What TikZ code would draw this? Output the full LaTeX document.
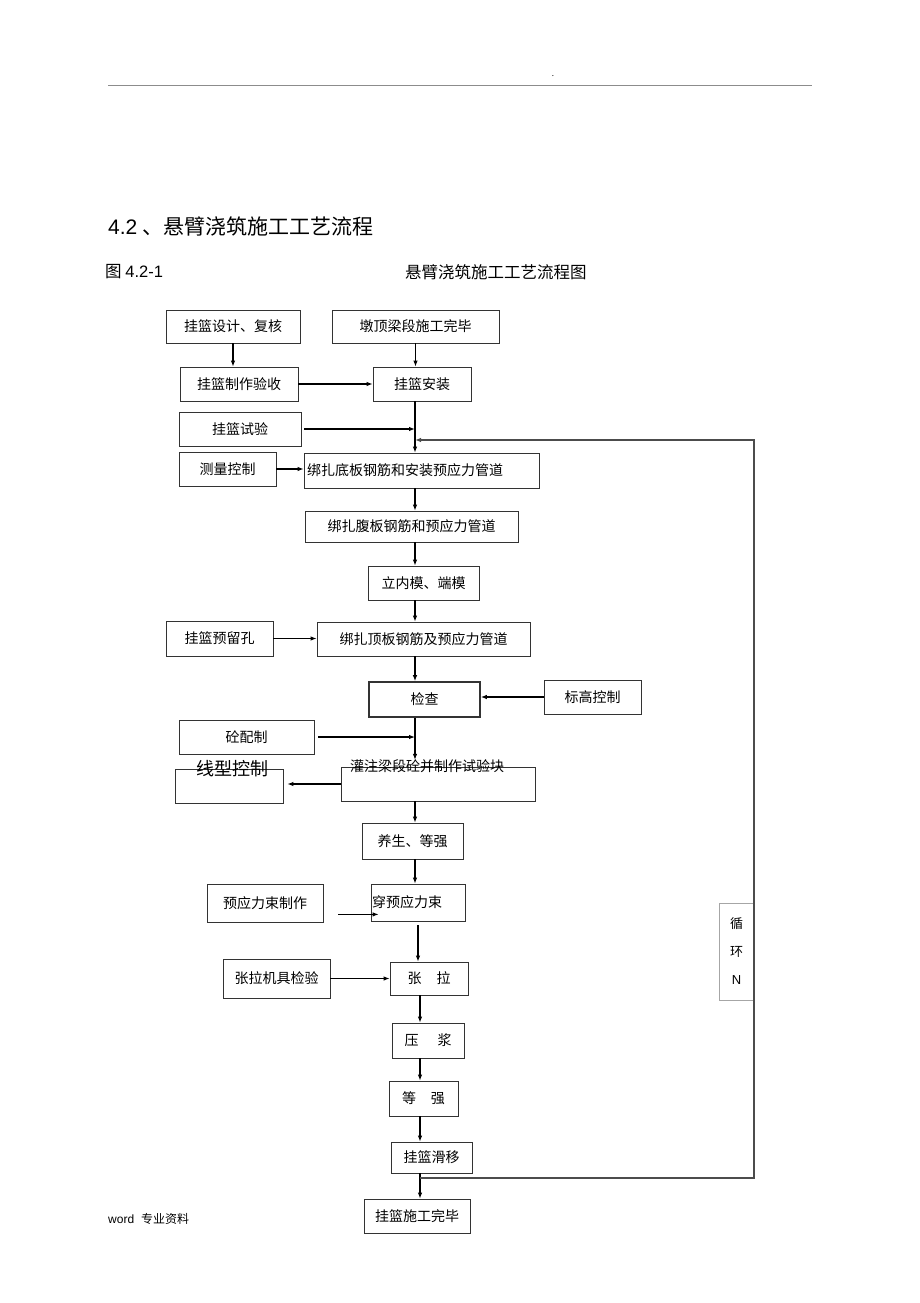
\documentclass[tikz,border=0pt]{standalone}
\usepackage{fontspec}
\setmainfont{Noto Sans CJK SC}
\newfontfamily\latin{Liberation Sans}
\usetikzlibrary{arrows.meta, calc}
\tikzstyle{process} = [rectangle, draw=black!80, line width=0.8pt, inner sep=0pt, text centered, font=\fontsize{14}{16}\selectfont]
\tikzstyle{plain} = [anchor=west, inner sep=0pt]
\tikzstyle{connector} = [draw, line width=1.1pt, -{Latex[length=6pt, width=4.5pt]}]

\begin{document}
\begin{tikzpicture}[x=1pt, y=-1pt]
    \useasboundingbox (0,0) rectangle (920,1303);
    % Page header
    \draw [black!45, line width=0.8pt] (108,85) -- (812,85);
    \node [inner sep=0pt, font=\fontsize{8}{8}\selectfont] (dot) at (553,76) {.};
    \node [plain, font=\fontsize{21}{24}\selectfont] (title) at (108,226) {{\latin 4.2} 、悬臂浇筑施工工艺流程};
    \node [plain, font=\fontsize{16.5}{20}\selectfont] (figno) at (105,272) {图 {\latin 4.2-1}};
    \node [plain, font=\fontsize{16.5}{20}\selectfont] (figtitle) at (405,272) {悬臂浇筑施工工艺流程图};
    \node [plain, font=\fontsize{12}{14}\selectfont] (footer) at (108,1219) {{\latin word}\hspace{7pt}专业资料};

    % Nodes
    \node [process, minimum width=134pt, minimum height=33pt] (design) at (233,326.5) {挂篮设计、复核};
    \node [process, minimum width=167pt, minimum height=33pt] (pier) at (415.5,326.5) {墩顶梁段施工完毕};
    \node [process, minimum width=118pt, minimum height=34pt] (make) at (239,384) {挂篮制作验收};
    \node [process, minimum width=98pt, minimum height=34pt] (install) at (422,384) {挂篮安装};
    \node [process, minimum width=122pt, minimum height=34pt] (test) at (240,429) {挂篮试验};
    \node [process, minimum width=97pt, minimum height=34pt] (survey) at (227.5,469) {测量控制};
    \node [process, minimum width=235pt, minimum height=35pt, text width=229pt, align=left] (bottom) at (421.5,470.5) {绑扎底板钢筋和安装预应力管道};
    \node [process, minimum width=213pt, minimum height=31pt] (web) at (411.5,526.5) {绑扎腹板钢筋和预应力管道};
    \node [process, minimum width=111pt, minimum height=34pt] (inner) at (423.5,583) {立内模、端模};
    \node [process, minimum width=107pt, minimum height=35pt] (hole) at (219.5,638.5) {挂篮预留孔};
    \node [process, minimum width=213pt, minimum height=34pt] (top) at (423.5,639) {绑扎顶板钢筋及预应力管道};
    \node [process, line width=1.6pt, minimum width=111pt, minimum height=35pt] (check) at (424.5,699.5) {检查};
    \node [process, minimum width=97pt, minimum height=34pt] (level) at (592.5,697) {标高控制};
    \node [process, minimum width=135pt, minimum height=34pt] (mix) at (246.5,737) {砼配制};
    \node [process, minimum width=194pt, minimum height=34pt] (pour) at (438,784) {};
    \node [font=\fontsize{14}{16}\selectfont, inner sep=0pt] (pourtext) at ([xshift=-11pt]pour.north) {灌注梁段砼并制作试验块};
    \node [process, minimum width=108pt, minimum height=34pt] (line) at (229,786) {};
    \node [font=\fontsize{18}{20}\selectfont, inner sep=0pt] (linetext) at ([xshift=3pt]line.north) {线型控制};
    \node [process, minimum width=101pt, minimum height=36pt] (cure) at (412.5,841) {养生、等强};
    \node [process, minimum width=116pt, minimum height=38pt] (beam) at (265,903) {预应力束制作};
    \node [process, minimum width=94pt, minimum height=37pt, text width=92pt, align=left] (thread) at (418,902.5) {穿预应力束};
    \node [process, minimum width=107pt, minimum height=39pt] (jackchk) at (276.5,978.5) {张拉机具检验};
    \node [process, minimum width=78pt, minimum height=33pt] (tension) at (429,978.5) {张\hspace{15pt}拉};
    \node [process, minimum width=72pt, minimum height=35pt] (grout) at (428,1040.5) {压\hspace{19pt}浆};
    \node [process, minimum width=69pt, minimum height=35pt] (cure2) at (423.5,1098.5) {等\hspace{15pt}强};
    \node [process, minimum width=81pt, minimum height=31pt] (slide) at (431.5,1157.5) {挂篮滑移};
    \node [process, minimum width=106pt, minimum height=34pt] (finish) at (417,1216) {挂篮施工完毕};
    \node [draw=black!35, line width=0.5pt, minimum width=35pt, minimum height=97pt, inner sep=0pt, align=center, font=\fontsize{13}{28}\selectfont] (cycle) at (736.5,951.5) {循\\环\\{\latin N}};

    % Trunk lines
    \coordinate (tx) at (415,0);
    \coordinate (tx2) at (420,0);
    \coordinate (lb) at (420,1178);
    \coordinate (lr) at (754,1178);
    \coordinate (tr) at (754,440);

    % Arrows
    \path [connector] (design.south) -- (design.south |- make.north);
    \path [connector] (pier.south) -- (pier.south |- install.north);
    \path [connector] (make.east) -- (make.east -| install.west);
    \path [connector] (tx |- install.south) -- (tx |- bottom.north);
    \path [connector] ([xshift=3pt]test.east) -- (tx |- test.east);
    \path [connector] (survey.east) -- (survey.east -| bottom.west);
    \path [connector] (tx |- bottom.south) -- (tx |- web.north);
    \path [connector] (tx |- web.south) -- (tx |- inner.north);
    \path [connector] (tx |- inner.south) -- (tx |- top.north);
    \path [connector] (hole.east) -- (hole.east -| top.west);
    \path [connector] (tx |- top.south) -- (tx |- check.north);
    \path [connector] (level.west) -- (level.west -| check.east);
    \path [connector] (tx |- check.south) -- (tx |- pourtext.north);
    \path [connector] ([xshift=4pt]mix.east) -- (tx |- mix.east);
    \path [connector] (pour.west) -- ([xshift=4pt]pour.west -| line.east);
    \path [connector] (tx |- pour.south) -- (tx |- cure.north);
    \path [connector] (tx |- cure.south) -- (tx |- thread.north);
    \path [connector] ([shift={(15,-8)}]beam.south east) -- ([shift={(8,-7)}]thread.south west);
    \path [connector, shorten <=4pt] (thread.south) -- (thread.south |- tension.north);
    \path [connector] (jackchk.east) -- (jackchk.east -| tension.west);
    \path [connector] (tx2 |- tension.south) -- (tx2 |- grout.north);
    \path [connector] (tx2 |- grout.south) -- (tx2 |- cure2.north);
    \path [connector] (tx2 |- cure2.south) -- (tx2 |- slide.north);
    \path [connector] (tx2 |- slide.south) -- (tx2 |- finish.north);
    % Loop back
    \path [connector, draw=black!70] (lb) -- (lr) -- (tr) -- (tx |- tr);
\end{tikzpicture}
\end{document}
